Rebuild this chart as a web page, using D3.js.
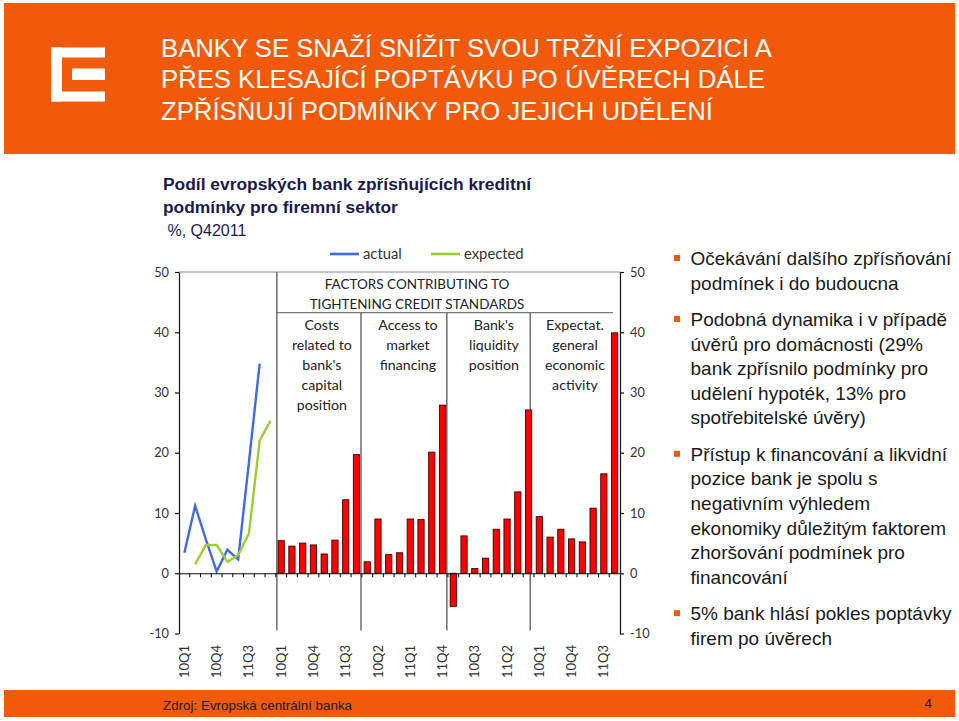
<!DOCTYPE html>
<html><head><meta charset="utf-8">
<script src="https://cdn.jsdelivr.net/npm/d3@7"></script>
<style>body{margin:0;background:#fff}svg{display:block}</style>
</head><body>
<svg id="c" width="959" height="721"></svg>
<script>
// ---------- DATA ----------
const lineCategories = ["10Q1","10Q2","10Q3","10Q4","11Q1","11Q2","11Q3","11Q4","12Q1"];
const barCategories = ["10Q1","10Q2","10Q3","10Q4","11Q1","11Q2","11Q3","11Q4"];
const actual   = [3.4, 11.2, 5.6, 0.3, 3.9, 2.3, 18.4, 34.8, null];
const expected = [null, 1.5, 4.7, 4.7, 1.9, 3.0, 6.6, 22.0, 25.3];
const costsCapital   = [5.4, 4.5, 5.0, 4.7, 3.2, 5.5, 12.2, 19.7];
const marketAccess   = [1.9, 9.0, 3.1, 3.4, 9.0, 8.9, 20.1, 27.9];
const liquidity      = [-5.5, 6.2, 0.8, 2.5, 7.3, 9.0, 13.5, 27.1];
const expectActivity = [9.4, 6.0, 7.3, 5.7, 5.2, 10.8, 16.5, 39.9];
const barSeries = [costsCapital, marketAccess, liquidity, expectActivity];
const factorHeaders = [
  ["Costs","related to","bank's","capital","position"],
  ["Access to","market","financing"],
  ["Bank's","liquidity","position"],
  ["Expectat.","general","economic","activity"]
];
const tableTitle = ["FACTORS CONTRIBUTING TO","TIGHTENING CREDIT STANDARDS"];
const yTicks = [50,40,30,20,10,0,-10];
const legendItems = ["actual","expected"];
const titleLines = ["BANKY SE SNAŽÍ SNÍŽIT SVOU TRŽNÍ EXPOZICI A","PŘES KLESAJÍCÍ POPTÁVKU PO ÚVĚRECH DÁLE","ZPŘÍSŇUJÍ PODMÍNKY PRO JEJICH UDĚLENÍ"];
const subtitleBold = ["Podíl evropských bank zpřísňujících kreditní","podmínky pro firemní sektor"];
const subtitleUnit = " %, Q42011";
const bullets = [
  ["Očekávání dalšího zpřísňování","podmínek i do budoucna"],
  ["Podobná dynamika i v případě","úvěrů pro domácnosti (29%","bank zpřísnilo podmínky pro","udělení hypoték, 13% pro","spotřebitelské úvěry)"],
  ["Přístup k financování a likvidní","pozice bank je spolu s","negativním výhledem","ekonomiky důležitým faktorem","zhoršování podmínek pro","financování"],
  ["5% bank hlásí pokles poptávky","firem po úvěrech"]
];
const footerText = "Zdroj: Evropská centrální banka";
const pageNumber = "4";

// ---------- BUILD ----------
const allCats = lineCategories.concat(barCategories, barCategories, barCategories, barCategories);
const nSlots = allCats.length; // 41
const svg = d3.select("#c");
const ORANGE = "#f05a0a";
const chartFont = "Lato, 'Open Sans', sans-serif";
const arial = "'Liberation Sans', Arial, sans-serif";

// header band
svg.append("rect").attr("x",4).attr("y",3).attr("width",951).attr("height",151).attr("fill",ORANGE);
// logo (E)
const lg = svg.append("g").attr("fill","#fff");
lg.append("rect").attr("x",51).attr("y",47.5).attr("width",54).attr("height",10);
lg.append("rect").attr("x",51).attr("y",47.5).attr("width",11).attr("height",54);
lg.append("rect").attr("x",72).attr("y",68.5).attr("width",33).attr("height",11.5);
lg.append("rect").attr("x",51).attr("y",91.5).attr("width",54).attr("height",10);
svg.append("g").selectAll("text").data(titleLines).join("text")
  .attr("x",161).attr("y",(d,i)=>56.5+i*31.6)
  .attr("fill","#fff").attr("font-family",arial).attr("font-size",25.7).text(d=>d);

// subtitle
svg.append("g").selectAll("text").data(subtitleBold).join("text")
  .attr("x",163).attr("y",(d,i)=>190+i*23)
  .attr("fill","#1a1a50").attr("font-family",arial).attr("font-weight","bold").attr("font-size",17.4).text(d=>d);
svg.append("text").attr("x",163).attr("y",236).attr("xml:space","preserve").style("white-space","pre")
  .attr("fill","#1a1a50").attr("font-family",arial).attr("font-size",16).text(subtitleUnit);

// footer
svg.append("rect").attr("x",4).attr("y",690).attr("width",951).attr("height",27).attr("fill",ORANGE);
svg.append("text").attr("x",163).attr("y",709.5).attr("fill","#1a1a1a").attr("font-family",arial).attr("font-size",13.4).text(footerText);
svg.append("text").attr("x",932).attr("y",708).attr("text-anchor","end").attr("fill","#1a1a1a").attr("font-family",arial).attr("font-size",13.4).text(pageNumber);

// bullets
let by = 265;
const bg = svg.append("g");
bullets.forEach((lines,bi)=>{
  bg.append("rect").attr("x",674).attr("y",by-10).attr("width",6).attr("height",6).attr("fill",ORANGE);
  lines.forEach((ln,li)=>{
    bg.append("text").attr("x",690.5).attr("y",by+li*24.6).attr("fill","#1a1a1a")
      .attr("font-family",arial).attr("font-size",19).text(ln);
  });
  by += (lines.length-1)*24.6 + 36.4;
});

// ---------- CHART ----------
const L = 179, R = 620, T = 272, B = 633.5;
const x = d3.scaleBand().domain(d3.range(nSlots)).range([L,R]).padding(0);
const bw = x.bandwidth();
const xc = i => x(i) + bw/2;
const y = d3.scaleLinear().domain([-10,50]).range([B,T]);
const g = svg.append("g");

// top frame line
g.append("line").attr("x1",L).attr("x2",R).attr("y1",T).attr("y2",T).attr("stroke","#888").attr("stroke-width",1);

// table header
const hdrY = 312.7;
const panelStart = [9,17,25,33];
const dividerNudge = [0.1,-0.08,-0.1,-0.35]; // fraction of a slot
g.append("line").attr("x1",x(9)+1).attr("x2",R-7).attr("y1",hdrY).attr("y2",hdrY).attr("stroke","#777").attr("stroke-width",1.3);
g.selectAll(".tt").data(tableTitle).join("text")
  .attr("x",417).attr("y",(d,i)=>288.5+i*20).attr("text-anchor","middle")
  .attr("fill","#222").attr("font-family",chartFont).attr("font-size",13.5).text(d=>d);
panelStart.forEach((s,pi)=>{
  const x0 = x(s), x1 = (s+8<nSlots)? x(s+8) : R;
  const xd = x0 + dividerNudge[pi]*bw;
  g.append("line").attr("x1",xd).attr("x2",xd).attr("y1",pi===0?T:hdrY).attr("y2",630.5)
    .attr("stroke","#555").attr("stroke-width",1.3);
  g.selectAll(null).data(factorHeaders[pi]).join("text")
    .attr("x",(x0+x1)/2+ (pi<3?3:-2)).attr("y",(d,i)=>330+i*20).attr("text-anchor","middle")
    .attr("fill","#222").attr("font-family",chartFont).attr("font-size",14.2).text(d=>d);
});

// bars
barSeries.forEach((vals,pi)=>{
  g.append("g").selectAll("rect").data(vals).join("rect")
    .attr("x",(d,i)=>xc(panelStart[pi]+i)-bw*0.29)
    .attr("width",bw*0.58)
    .attr("y",d=>y(Math.max(0,d)))
    .attr("height",d=>Math.abs(y(d)-y(0)))
    .attr("fill","#ff0000").attr("stroke","#3a0000").attr("stroke-width",0.9);
});

// lines
const line = d3.line().defined(d=>d.v!=null).x(d=>xc(d.i)).y(d=>y(d.v));
g.append("path").datum(actual.map((v,i)=>({i,v}))).attr("d",line)
  .attr("fill","none").attr("stroke","#4169e1").attr("stroke-width",2.4);
g.append("path").datum(expected.map((v,i)=>({i,v}))).attr("d",line)
  .attr("fill","none").attr("stroke","#9acd32").attr("stroke-width",2.4);

// axes
const fmt = v => String(v);
const axL = d3.axisLeft(y).tickValues(yTicks).tickFormat(fmt).tickSize(4).tickPadding(6).tickSizeOuter(0);
const gl = g.append("g").attr("transform",`translate(${L},0)`).call(axL);
const axR = d3.axisRight(y).tickValues(yTicks).tickFormat(fmt).tickSize(4).tickPadding(6).tickSizeOuter(0);
const gr = g.append("g").attr("transform",`translate(${R},0)`).call(axR);
[gl,gr].forEach(a=>{
  a.selectAll("path,line").attr("stroke","#111").attr("stroke-width",1.2);
  a.selectAll("text").attr("font-family",chartFont).attr("font-size",12.8).attr("fill","#333");
});

// x axis
const y0 = y(0);
const xa = d3.axisBottom(x).tickValues(d3.range(0,nSlots,3)).tickSize(0).tickFormat(i=>allCats[i]);
const gx = g.append("g").attr("transform",`translate(0,${y0})`).call(xa);
gx.select(".domain").attr("stroke","#111").attr("stroke-width",1.2);
gx.selectAll(".tick text")
  .attr("font-family",chartFont).attr("font-size",13).attr("fill","#333")
  .attr("text-anchor","end").attr("transform","rotate(-90)")
  .attr("x",-(645-y0)).attr("y",0).attr("dy","0.35em");
g.append("g").selectAll("line").data(d3.range(1,nSlots)).join("line")
  .attr("x1",i=>x(i)).attr("x2",i=>x(i)).attr("y1",y0).attr("y2",y0+4)
  .attr("stroke","#111").attr("stroke-width",1.1);

// legend
const legendColors = ["#4169e1","#9acd32"];
const legendX = [330,431];
legendItems.forEach((t,i)=>{
  g.append("line").attr("x1",legendX[i]).attr("x2",legendX[i]+29).attr("y1",254).attr("y2",254)
    .attr("stroke",legendColors[i]).attr("stroke-width",2.6);
  g.append("text").attr("x",legendX[i]+33).attr("y",258.5).attr("fill","#333")
    .attr("font-family",chartFont).attr("font-size",14.8).text(t);
});
</script>
</body></html>
